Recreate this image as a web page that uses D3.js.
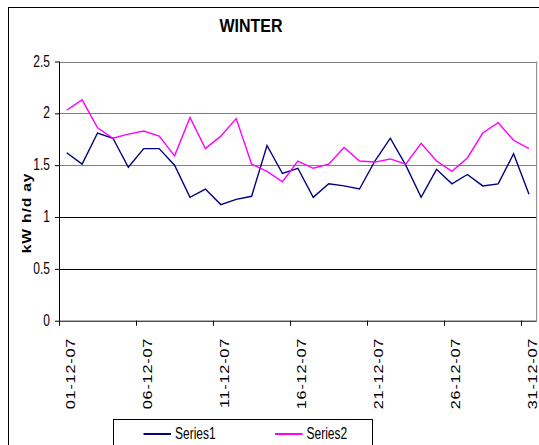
<!DOCTYPE html>
<html>
<head>
<meta charset="utf-8">
<script src="https://cdn.jsdelivr.net/npm/d3@7"></script>
<style>
  html, body { margin: 0; padding: 0; background: #fff; }
  svg { display: block; }
  text { font-family: "Liberation Sans", Arial, sans-serif; fill: #000; }
</style>
</head>
<body>
<svg id="chart" width="539" height="445"></svg>
<script>
const title = "WINTER";
const yAxisTitle = "kW h/d ay";
const categories = [
  "01-12-07","02-12-07","03-12-07","04-12-07","05-12-07","06-12-07","07-12-07","08-12-07",
  "09-12-07","10-12-07","11-12-07","12-12-07","13-12-07","14-12-07","15-12-07","16-12-07",
  "17-12-07","18-12-07","19-12-07","20-12-07","21-12-07","22-12-07","23-12-07","24-12-07",
  "25-12-07","26-12-07","27-12-07","28-12-07","29-12-07","30-12-07","31-12-07"
];
const series1 = [1.62,1.51,1.81,1.76,1.48,1.66,1.66,1.50,1.19,1.27,1.12,1.17,1.20,1.69,1.42,1.47,
                 1.19,1.32,1.30,1.27,1.54,1.76,1.50,1.19,1.46,1.32,1.41,1.30,1.32,1.61,1.22];
const series2 = [2.03,2.13,1.86,1.76,1.80,1.83,1.78,1.59,1.96,1.66,1.78,1.95,1.51,1.44,1.34,1.54,
                 1.47,1.51,1.67,1.54,1.53,1.56,1.51,1.71,1.54,1.44,1.57,1.81,1.91,1.74,1.66];
const seriesNames = ["Series1", "Series2"];
const seriesColors = ["#000080", "#FF00FF"];
const yTicks = [0, 0.5, 1, 1.5, 2, 2.5];
const xLabelIdx = [0, 5, 10, 15, 20, 25, 30];

const svg = d3.select("#chart");
const L = 59, R = 536.7, T = 61.5, B = 320.7;

const x = d3.scaleBand().domain(categories).range([L, R]).padding(0);
const y = d3.scaleLinear().domain([0, 2.5]).range([B, T]);
const cx = d => x(d) + x.bandwidth() / 2;

// outer chart border
svg.append("rect").attr("x", 8.5).attr("y", 7.5).attr("width", 560).attr("height", 460)
  .attr("fill", "none").attr("stroke", "#000").attr("stroke-width", 1);

// gridlines
svg.append("g").selectAll("line").data(yTicks.filter(v => v > 0)).join("line")
  .attr("x1", L).attr("x2", R)
  .attr("y1", d => Math.round(y(d)) + 0.5).attr("y2", d => Math.round(y(d)) + 0.5)
  .attr("stroke", d => d >= 1.5 ? "#808080" : "#000").attr("stroke-width", 1);
// right border of plot
svg.append("line").attr("x1", R).attr("x2", R).attr("y1", T).attr("y2", B)
  .attr("stroke", "#808080").attr("stroke-width", 1);

// y axis
const yAxis = svg.append("g").attr("transform", `translate(${L},0)`)
  .call(d3.axisLeft(y).tickValues(yTicks).tickSize(4).tickFormat(""));
yAxis.selectAll("path,line").attr("stroke", "#000");
yAxis.select(".domain").attr("d", `M0.5,${T}V${B}`);
yAxis.selectAll(".tick line").attr("x1", 0.5);

// x axis
const xAxis = svg.append("g").attr("transform", `translate(0,${B})`)
  .call(d3.axisBottom(x).tickValues([]).tickSize(0));
xAxis.select(".domain").attr("d", `M${L},0.5H${R}`).attr("stroke", "#000");
svg.append("g").selectAll("line").data(xLabelIdx).join("line")
  .attr("x1", i => Math.round(x(categories[i])) + 0.5)
  .attr("x2", i => Math.round(x(categories[i])) + 0.5)
  .attr("y1", B).attr("y2", B + 5).attr("stroke", "#000");

// y tick labels
svg.append("g").selectAll("text").data(yTicks).join("text")
  .attr("transform", d => `translate(50,${y(d) + 5}) scale(1,1.3)`)
  .attr("text-anchor", "end").attr("font-size", 12)
  .text(d => d);

// x tick labels
svg.append("g").selectAll("text").data(xLabelIdx).join("text")
  .attr("transform", i => `translate(${cx(categories[i]) + 8.5},338) scale(1,1.3) rotate(-90)`)
  .attr("text-anchor", "end").attr("font-size", 12.5).attr("letter-spacing", 0.6)
  .text(i => categories[i]);

// title
svg.append("text").attr("transform", "translate(251,32) scale(1,1.15)")
  .attr("text-anchor", "middle").attr("font-size", 16).attr("font-weight", "bold")
  .text(title);

// y axis title
svg.append("text").attr("transform", "translate(30.5,213) scale(1,1.25) rotate(-90)")
  .attr("text-anchor", "middle").attr("font-size", 12.5).attr("font-weight", "bold")
  .attr("letter-spacing", 0.7)
  .text(yAxisTitle);

// lines
const line = d3.line().x((d, i) => cx(categories[i])).y(d => y(d));
[series1, series2].forEach((s, k) => {
  svg.append("path").datum(s).attr("d", line)
    .attr("fill", "none").attr("stroke", seriesColors[k]).attr("stroke-width", 1.4)
    .attr("stroke-linejoin", "miter");
});

// legend
svg.append("rect").attr("x", 113.5).attr("y", 419.5).attr("width", 259).attr("height", 40)
  .attr("fill", "#fff").attr("stroke", "#000").attr("stroke-width", 1);
const legX = [143.5, 275];
seriesNames.forEach((n, k) => {
  svg.append("line").attr("x1", legX[k]).attr("x2", legX[k] + 27.5)
    .attr("y1", 434).attr("y2", 434)
    .attr("stroke", seriesColors[k]).attr("stroke-width", 2);
  svg.append("text").attr("transform", `translate(${legX[k] + 31.5},439) scale(1,1.4)`)
    .attr("font-size", 12).text(n);
});
</script>
</body>
</html>
